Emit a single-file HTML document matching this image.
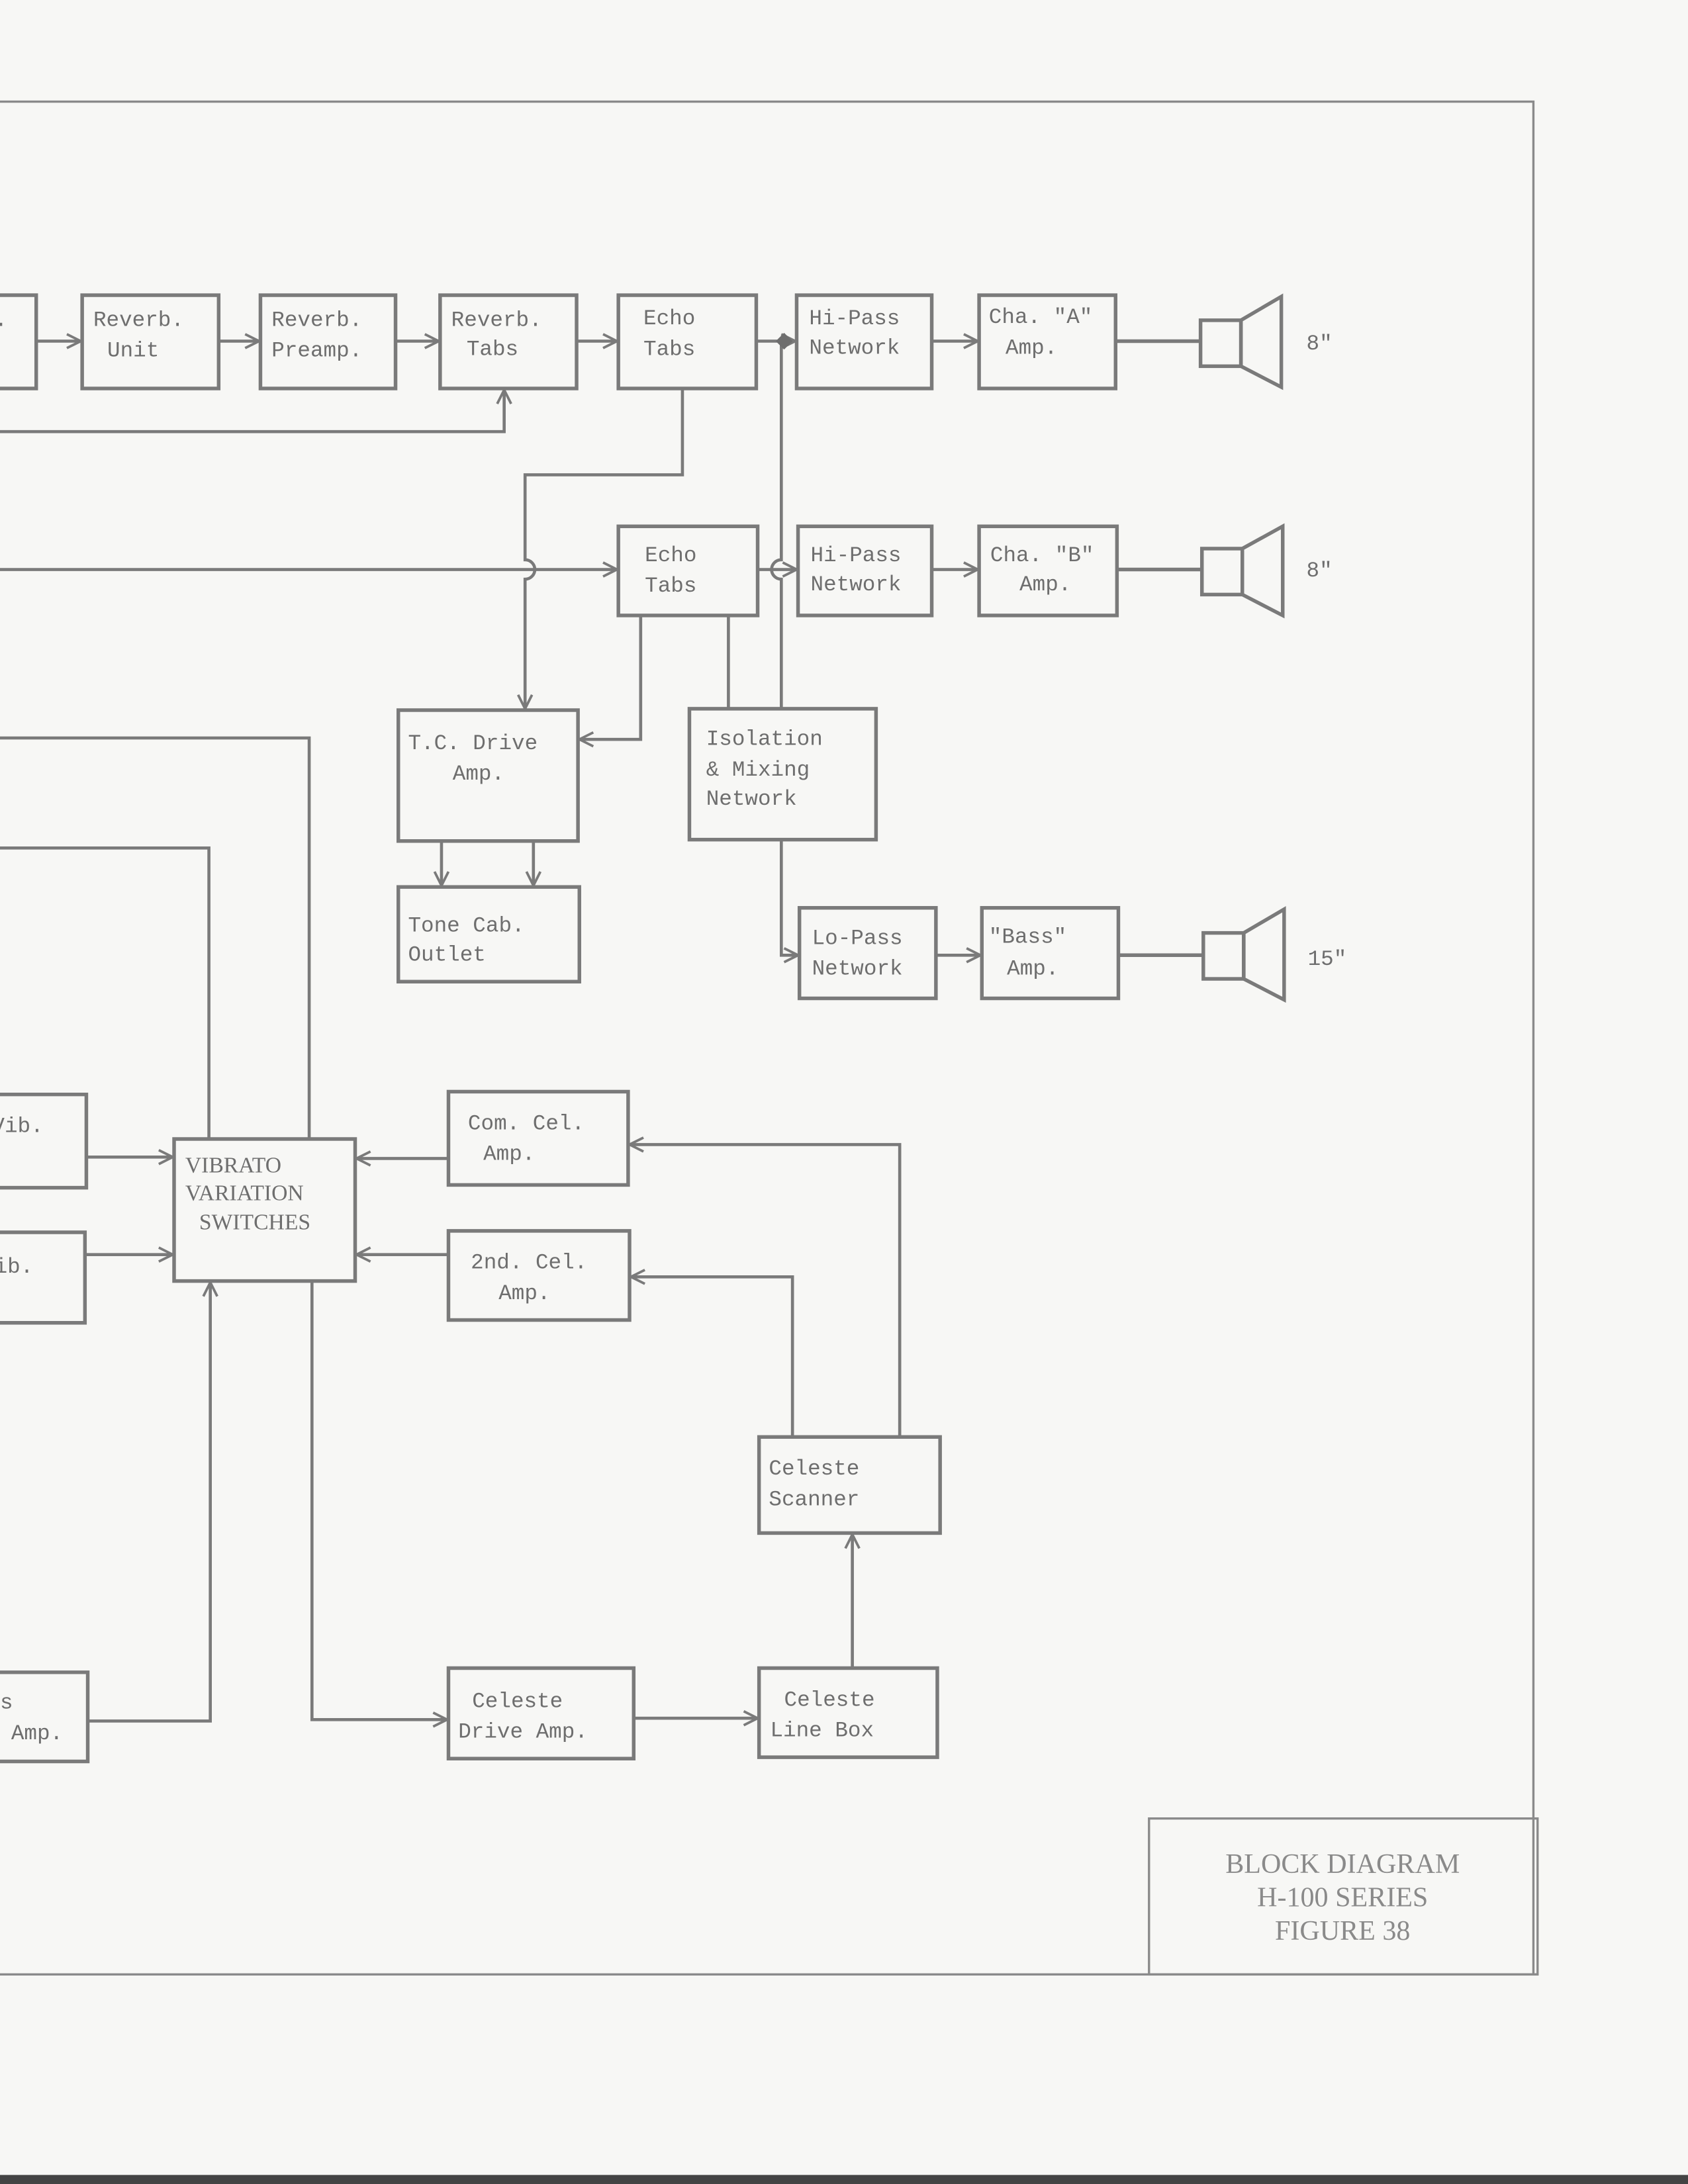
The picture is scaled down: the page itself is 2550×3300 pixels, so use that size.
<!DOCTYPE html>
<html><head><meta charset="utf-8"><style>
html,body{margin:0;padding:0;background:#f7f7f5;}
svg{display:block;}
text{font-family:"Liberation Mono",monospace;fill:#6e6e6e;font-size:15.5px;}
.t{font-family:"Liberation Serif",serif;font-size:20px;fill:#8a8a8a;}
</style></head><body>
<svg width="2550" height="3300" viewBox="0 0 1212 1568.5" preserveAspectRatio="none" xmlns="http://www.w3.org/2000/svg">
<defs>
<marker id="a" viewBox="0 0 12 12" refX="11" refY="6" markerWidth="12" markerHeight="12" markerUnits="userSpaceOnUse" orient="auto">
<polyline points="1,1 11,6 1,11" fill="none" stroke="#7a7a7a" stroke-width="1.8"/>
</marker>
</defs>
<rect width="1212" height="1568.5" fill="#f7f7f5"/>
<g fill="none" stroke="#8a8a8a" stroke-width="1.6">
<polyline points="0,73 1101,73 1101,1418"/>
<line x1="0" y1="1418" x2="1104" y2="1418"/>
<rect x="825" y="1306" width="279" height="112"/>
</g>
<g fill="none" stroke="#7a7a7a" stroke-width="2.6">
<!-- row1 boxes -->
<polyline points="-2,212 26,212 26,279 -2,279"/>
<rect x="59" y="212" width="98" height="67"/>
<rect x="187" y="212" width="97" height="67"/>
<rect x="316" y="212" width="98" height="67"/>
<rect x="444" y="212" width="99" height="67"/>
<rect x="572" y="212" width="97" height="67"/>
<rect x="703" y="212" width="98" height="67"/>
<!-- row2 -->
<rect x="444" y="378" width="100" height="64"/>
<rect x="573" y="378" width="96" height="64"/>
<rect x="703" y="378" width="99" height="64"/>
<rect x="286" y="510" width="129" height="94"/>
<rect x="286" y="637" width="130" height="68"/>
<rect x="495" y="509" width="134" height="94"/>
<rect x="574" y="652" width="98" height="65"/>
<rect x="705" y="652" width="98" height="65"/>
<!-- lower -->
<polyline points="-2,786 62,786 62,853 -2,853"/>
<polyline points="-2,885 61,885 61,950 -2,950"/>
<polyline points="-2,1201 63,1201 63,1265 -2,1265"/>
<rect x="125" y="818" width="130" height="102"/>
<rect x="322" y="784" width="129" height="67"/>
<rect x="322" y="884" width="130" height="64"/>
<rect x="545" y="1032" width="130" height="69"/>
<rect x="322" y="1198" width="133" height="65"/>
<rect x="545" y="1198" width="128" height="64"/>
<!-- speakers -->
<line x1="801" y1="245" x2="862" y2="245"/>
<rect x="862" y="230" width="29" height="33"/>
<polygon points="891,230 920,213 920,278 891,263"/>
<line x1="802" y1="409" x2="863" y2="409"/>
<rect x="863" y="394" width="29" height="33"/>
<polygon points="892,394 921,378 921,442 892,427"/>
<line x1="803" y1="686" x2="864" y2="686"/>
<rect x="864" y="670" width="29" height="33"/>
<polygon points="893,670 922,653 922,718 893,703"/>
</g>
<g fill="none" stroke="#7a7a7a" stroke-width="2.2">
<line x1="26" y1="245" x2="58" y2="245" marker-end="url(#a)"/>
<line x1="157" y1="245" x2="186" y2="245" marker-end="url(#a)"/>
<line x1="284" y1="245" x2="315" y2="245" marker-end="url(#a)"/>
<line x1="414" y1="245" x2="443" y2="245" marker-end="url(#a)"/>
<line x1="543" y1="245" x2="571" y2="245" marker-end="url(#a)"/>
<line x1="669" y1="245" x2="702" y2="245" marker-end="url(#a)"/>
<polyline points="0,310 362,310 362,280" marker-end="url(#a)"/>
<polyline points="490,279 490,341 377,341 377,402 A" stroke="none"/>
<path d="M490,279 V341 H377 V402 a7,7 0 0 1 0,14 V509" marker-end="url(#a)"/>
<path d="M561,245 V402 a7,7 0 0 0 0,14 V509"/>
<line x1="0" y1="409" x2="443" y2="409" marker-end="url(#a)"/>
<line x1="544" y1="409" x2="572" y2="409" marker-end="url(#a)"/>
<line x1="669" y1="409" x2="702" y2="409" marker-end="url(#a)"/>
<polyline points="460,442 460,531 416,531" marker-end="url(#a)"/>
<line x1="523" y1="442" x2="523" y2="509"/>
<line x1="317" y1="604" x2="317" y2="636" marker-end="url(#a)"/>
<line x1="383" y1="604" x2="383" y2="636" marker-end="url(#a)"/>
<polyline points="561,603 561,686 573,686" marker-end="url(#a)"/>
<line x1="672" y1="686" x2="704" y2="686" marker-end="url(#a)"/>
<polyline points="0,530 222,530 222,818"/>
<polyline points="0,609 150,609 150,818"/>
<line x1="62" y1="831" x2="124" y2="831" marker-end="url(#a)"/>
<line x1="61" y1="901" x2="124" y2="901" marker-end="url(#a)"/>
<line x1="322" y1="832" x2="256" y2="832" marker-end="url(#a)"/>
<line x1="322" y1="901" x2="256" y2="901" marker-end="url(#a)"/>
<polyline points="646,1032 646,822 452,822" marker-end="url(#a)"/>
<polyline points="569,1032 569,917 453,917" marker-end="url(#a)"/>
<polyline points="63,1236 151,1236 151,921" marker-end="url(#a)"/>
<polyline points="224,920 224,1235 321,1235" marker-end="url(#a)"/>
<line x1="455" y1="1234" x2="544" y2="1234" marker-end="url(#a)"/>
<line x1="612" y1="1198" x2="612" y2="1102" marker-end="url(#a)"/>
</g>
<polygon points="563,239 569,245 563,251 557,245" fill="#6e6e6e"/>
<text x="-4" y="234">.</text>
<text x="67" y="234">Reverb.</text><text x="77" y="256">Unit</text>
<text x="195" y="234">Reverb.</text><text x="195" y="256">Preamp.</text>
<text x="324" y="234">Reverb.</text><text x="335" y="255">Tabs</text>
<text x="462" y="233">Echo</text><text x="462" y="255">Tabs</text>
<text x="581" y="233">Hi-Pass</text><text x="581" y="254">Network</text>
<text x="710" y="232">Cha. "A"</text><text x="722" y="254">Amp.</text>
<text x="938" y="251">8"</text>
<text x="463" y="403">Echo</text><text x="463" y="425">Tabs</text>
<text x="582" y="403">Hi-Pass</text><text x="582" y="424">Network</text>
<text x="711" y="403">Cha. "B"</text><text x="732" y="424">Amp.</text>
<text x="938" y="414">8"</text>
<text x="293" y="538">T.C. Drive</text><text x="325" y="560">Amp.</text>
<text x="507" y="535">Isolation</text><text x="507" y="557">&amp; Mixing</text><text x="507" y="578">Network</text>
<text x="293" y="669">Tone Cab.</text><text x="293" y="690">Outlet</text>
<text x="583" y="678">Lo-Pass</text><text x="583" y="700">Network</text>
<text x="710" y="677">"Bass"</text><text x="723" y="700">Amp.</text>
<text x="939" y="693">15"</text>
<text x="-6" y="813">Vib.</text><text x="-6" y="836">.</text>
<text x="-4" y="914">ib.</text><text x="-6" y="935">.</text>
<text x="133" y="842" style="font-family:'Liberation Serif',serif;font-size:16px">VIBRATO</text>
<text x="133" y="862" style="font-family:'Liberation Serif',serif;font-size:16px">VARIATION</text>
<text x="143" y="883" style="font-family:'Liberation Serif',serif;font-size:16px">SWITCHES</text>
<text x="336" y="811">Com. Cel.</text><text x="347" y="833">Amp.</text>
<text x="338" y="911">2nd. Cel.</text><text x="358" y="933">Amp.</text>
<text x="552" y="1059">Celeste</text><text x="552" y="1081">Scanner</text>
<text x="0" y="1227">s</text><text x="8" y="1249">Amp.</text>
<text x="339" y="1226">Celeste</text><text x="329" y="1248">Drive Amp.</text>
<text x="563" y="1225">Celeste</text><text x="553" y="1247">Line Box</text>
<text class="t" x="964" y="1345" text-anchor="middle">BLOCK DIAGRAM</text>
<text class="t" x="964" y="1369" text-anchor="middle">H-100 SERIES</text>
<text class="t" x="964" y="1393" text-anchor="middle">FIGURE 38</text>
<rect x="0" y="1562" width="1212" height="6.5" fill="#444"/>
</svg>
</body></html>
